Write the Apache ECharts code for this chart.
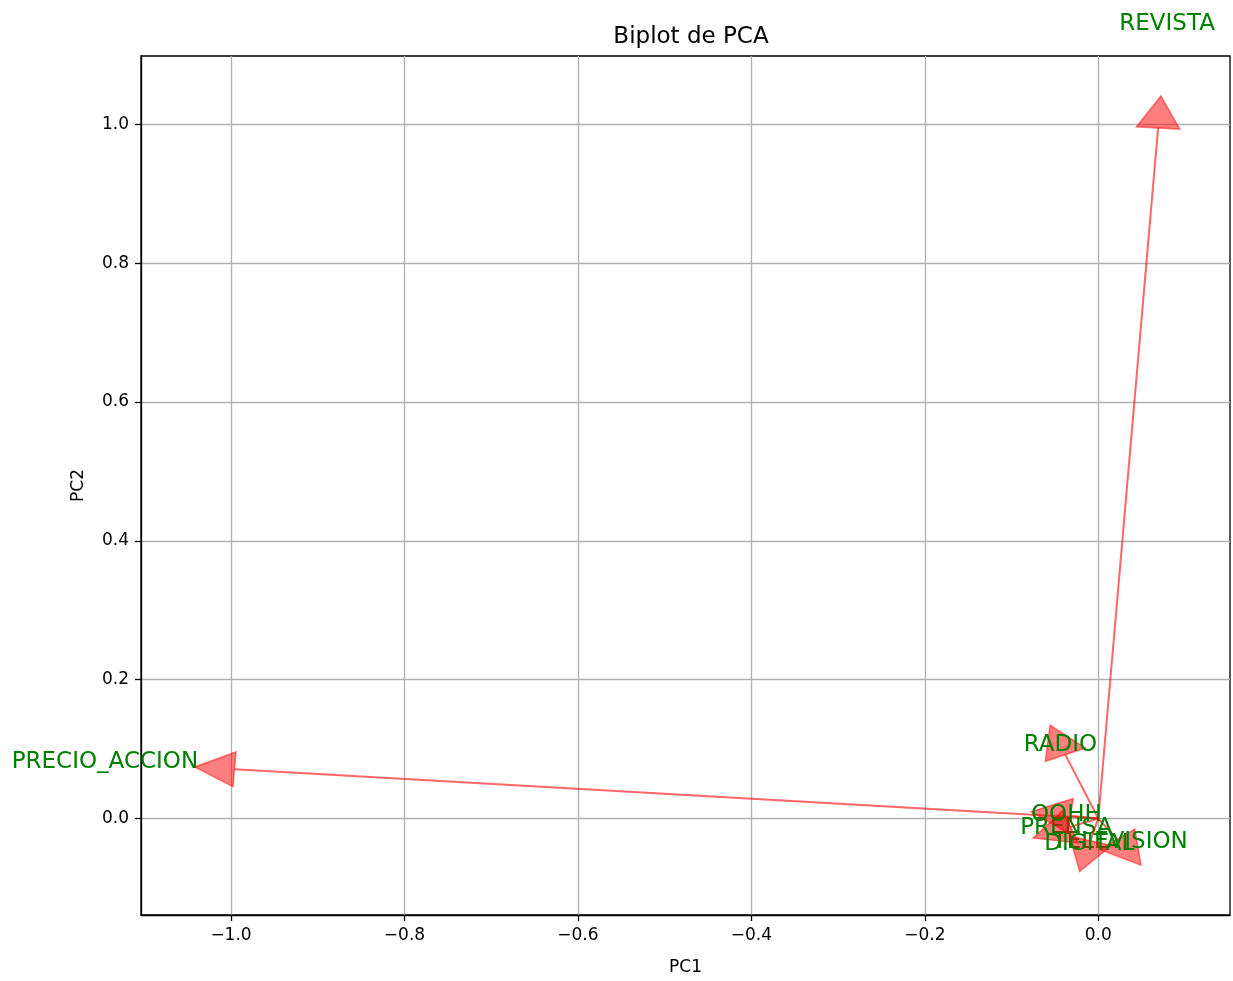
<!DOCTYPE html>
<html>
<head>
<meta charset="utf-8">
<title>Biplot de PCA</title>
<script src="https://cdn.jsdelivr.net/npm/echarts@6/dist/echarts.min.js"></script>
<style>
  html, body { margin: 0; padding: 0; background: #fff; }
  #biplot { width: 1233px; height: 981px; }
</style>
</head>
<body>
<div id="biplot"></div>
<script>
  // cargas de cada variable en PC1 / PC2
  const variables = ['PRECIO_ACCION', 'TELEVISION', 'RADIO', 'PRENSA', 'REVISTA', 'OOHH', 'DIGITAL'];
  const pc1 = [-0.996, 0.022, -0.038, -0.032, 0.069, -0.032, -0.009];
  const pc2 = [0.071, -0.030, 0.092, -0.012, 0.995, 0.004, -0.032];

  const xTicks = [-1.0, -0.8, -0.6, -0.4, -0.2, 0.0];
  const yTicks = [0.0, 0.2, 0.4, 0.6, 0.8, 1.0];

  const headWidth = 0.05;
  const headLength = 0.046;
  const textScale = 1.15;

  const fontFam = '"DejaVu Sans", sans-serif';

  const chart = echarts.init(document.getElementById('biplot'));

  const data = variables.map(function (name, i) {
    return { name: name, value: [pc1[i], pc2[i]] };
  });

  function fmt(v) {
    return (v < 0 ? '\u2212' : '') + Math.abs(v).toFixed(1);
  }

  chart.setOption({
    animation: false,
    backgroundColor: '#fff',
    title: {
      text: 'Biplot de PCA',
      left: 686,
      textAlign: 'center',
      top: 21,
      textStyle: { fontFamily: fontFam, fontSize: 23, fontWeight: 'normal', color: '#000' }
    },
    grid: {
      left: 141, right: 3, top: 56, bottom: 59,
      show: true, borderColor: '#000', borderWidth: 1.3
    },
    xAxis: {
      type: 'value',
      min: -1.1038,
      max: 0.1519,
      name: 'PC1',
      nameLocation: 'middle',
      nameGap: 44,
      nameTextStyle: { fontFamily: fontFam, fontSize: 17, color: '#000' },
      axisLine: { show: true, onZero: false, lineStyle: { color: '#000', width: 1.3 } },
      axisTick: { show: true, customValues: xTicks, length: 6, lineStyle: { color: '#000', width: 1.3 } },
      axisLabel: {
        customValues: xTicks, margin: 12, formatter: fmt,
        fontFamily: fontFam, fontSize: 17, color: '#000'
      },
      splitLine: { show: true, lineStyle: { color: '#b0b0b0', width: 1.3 } }
    },
    yAxis: {
      type: 'value',
      min: -0.139,
      max: 1.0986,
      name: 'PC2',
      nameLocation: 'middle',
      nameGap: 54,
      nameTextStyle: { fontFamily: fontFam, fontSize: 17, color: '#000' },
      axisLine: { show: true, onZero: false, lineStyle: { color: '#000', width: 1.3 } },
      axisTick: { show: true, customValues: yTicks, length: 6, lineStyle: { color: '#000', width: 1.3 } },
      axisLabel: {
        customValues: yTicks, margin: 12, formatter: fmt,
        fontFamily: fontFam, fontSize: 17, color: '#000'
      },
      splitLine: { show: true, lineStyle: { color: '#b0b0b0', width: 1.3 } }
    },
    series: [{
      type: 'custom',
      clip: false,
      data: data,
      renderItem: function (params, api) {
        const x = api.value(0);
        const y = api.value(1);
        const len = Math.sqrt(x * x + y * y);
        const ux = x / len, uy = y / len;
        const nx = -uy, ny = ux;
        const o = api.coord([0, 0]);
        const end = api.coord([x, y]);
        const tip = api.coord([x + ux * headLength, y + uy * headLength]);
        const b1 = api.coord([x + nx * headWidth / 2, y + ny * headWidth / 2]);
        const b2 = api.coord([x - nx * headWidth / 2, y - ny * headWidth / 2]);
        const lp = api.coord([x * textScale, y * textScale]);
        return {
          type: 'group',
          children: [{
            type: 'line',
            shape: { x1: o[0], y1: o[1], x2: end[0], y2: end[1] },
            style: { stroke: 'rgba(255,0,0,0.6)', lineWidth: 2 }
          }, {
            type: 'polygon',
            shape: { points: [b1, tip, b2] },
            style: { fill: 'rgba(255,0,0,0.5)', stroke: 'rgba(255,0,0,0.5)', lineWidth: 1.5 }
          }, {
            type: 'text',
            style: {
              text: variables[params.dataIndex],
              x: lp[0], y: lp[1],
              align: 'center', verticalAlign: 'middle',
              fill: '#008000',
              font: '23px ' + fontFam
            }
          }]
        };
      }
    }]
  });
</script>
</body>
</html>
